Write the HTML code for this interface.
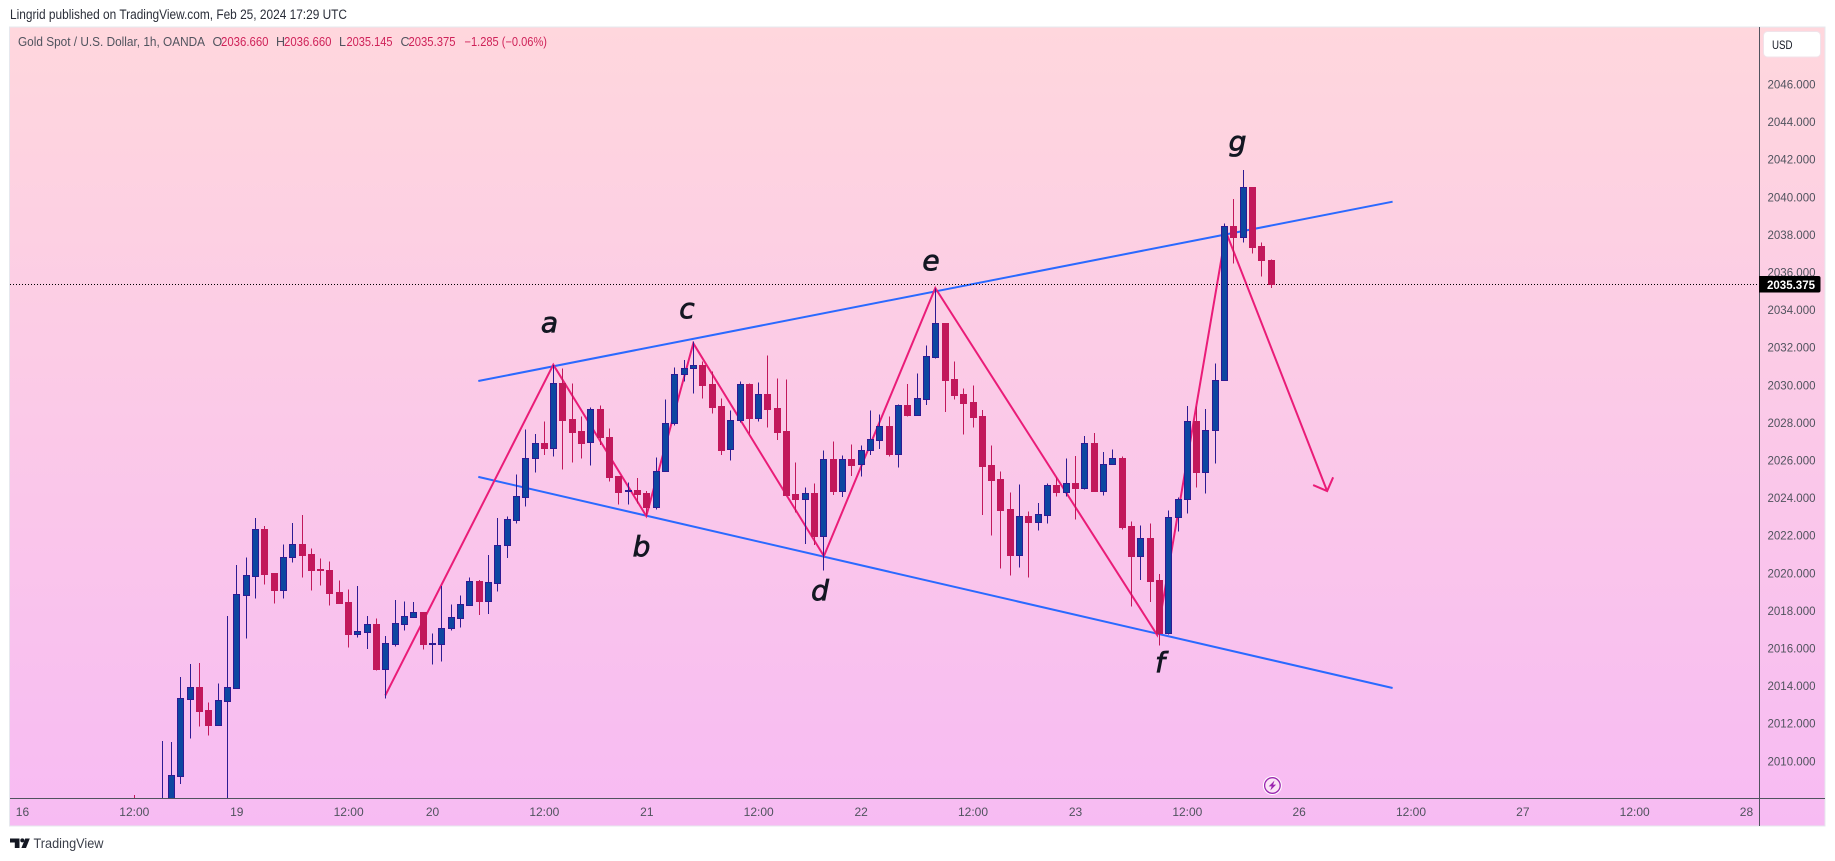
<!DOCTYPE html>
<html lang="en">
<head>
<meta charset="utf-8">
<title>Gold Spot / U.S. Dollar, 1h chart</title>
<style>
html,body{margin:0;padding:0;background:#fff;width:1835px;height:861px;overflow:hidden}
svg{display:block}
text{font-family:"Liberation Sans",sans-serif}
.axis-label{font-size:12px;fill:#50535e}
.legend{font-size:12.5px}
.wave{font-family:"DejaVu Sans",sans-serif;font-style:italic;font-size:28px;fill:#131722;stroke:#131722;stroke-width:.8px;text-anchor:middle}
</style>
</head>
<body>
<svg id="chart" xmlns="http://www.w3.org/2000/svg" width="1835" height="861" viewBox="0 0 1835 861">
  <defs>
    <linearGradient id="bg-gradient" x1="0" y1="0" x2="0" y2="1">
      <stop offset="0" stop-color="#ffd7dd"/>
      <stop offset="1" stop-color="#f7bbf3"/>
    </linearGradient>
    <clipPath id="plot-clip"><rect x="10" y="28" width="1749" height="770"/></clipPath>
  </defs>

  <text x="10" y="19" font-size="13.5" fill="#2a2e39" textLength="337" lengthAdjust="spacingAndGlyphs">Lingrid published on TradingView.com, Feb 25, 2024 17:29 UTC</text>

  <rect x="9.5" y="27" width="1815.5" height="799" fill="url(#bg-gradient)" stroke="#e6e8ee" stroke-width="1"/>

  <g id="drawings" clip-path="url(#plot-clip)"></g>
  <line x1="10" x2="1759" y1="284.5" y2="284.5" stroke="#000" stroke-width="1" stroke-dasharray="1 2"/>
  <g id="candles" clip-path="url(#plot-clip)"></g>

  <g>
    <text class="wave" x="549.5" y="332">a</text>
    <text class="wave" x="641.5" y="556">b</text>
    <text class="wave" x="687" y="318">c</text>
    <text class="wave" x="820" y="600">d</text>
    <text class="wave" x="931" y="270">e</text>
    <text class="wave" x="1160" y="672">f</text>
    <text class="wave" x="1237.5" y="151">g</text>
  </g>

  <line x1="1759.5" x2="1759.5" y1="27" y2="826" stroke="#50535e"/>
  <line x1="10" x2="1825" y1="798.5" y2="798.5" stroke="#50535e"/>
  <g id="price-axis"></g>
  <g id="time-axis"></g>

  <g>
    <rect x="1763.5" y="31.5" width="57" height="25.5" rx="4" fill="#fff" stroke="#f0e3ea"/>
    <text x="1772" y="49" font-size="12" fill="#131722" textLength="20.5" lengthAdjust="spacingAndGlyphs">USD</text>
  </g>

  <g>
    <path d="M1759 276H1818.5a2 2 0 0 1 2 2V290.5a2 2 0 0 1 -2 2H1759Z" fill="#000"/>
    <text x="1767" y="289" font-size="12" font-weight="bold" fill="#fff" textLength="48" lengthAdjust="spacingAndGlyphs">2035.375</text>
  </g>

  <g class="legend">
    <text x="18" y="46" fill="#50535e" class="legend" textLength="187" lengthAdjust="spacingAndGlyphs">Gold Spot / U.S. Dollar, 1h, OANDA</text>
    <text x="212.5" y="46" fill="#50535e" class="legend">O</text>
    <text x="221" y="46" fill="#cf2259" class="legend" textLength="47.5" lengthAdjust="spacingAndGlyphs">2036.660</text>
    <text x="276" y="46" fill="#50535e" class="legend">H</text>
    <text x="284" y="46" fill="#cf2259" class="legend" textLength="47.5" lengthAdjust="spacingAndGlyphs">2036.660</text>
    <text x="339" y="46" fill="#50535e" class="legend">L</text>
    <text x="346.5" y="46" fill="#cf2259" class="legend" textLength="46" lengthAdjust="spacingAndGlyphs">2035.145</text>
    <text x="400.5" y="46" fill="#50535e" class="legend">C</text>
    <text x="408.5" y="46" fill="#cf2259" class="legend" textLength="47" lengthAdjust="spacingAndGlyphs">2035.375</text>
    <text x="464.5" y="46" fill="#cf2259" class="legend" textLength="82.5" lengthAdjust="spacingAndGlyphs">−1.285 (−0.06%)</text>
  </g>

  <g>
    <circle cx="1272.4" cy="785.5" r="9.5" fill="#fff"/>
    <circle cx="1272.4" cy="785.5" r="7.8" fill="#fbe4f6" stroke="#9c27b0" stroke-width="1.3"/>
    <polygon points="1274.5,780.5 1268.7,786.4 1271.7,786.4 1270.3,790.5 1276.1,784.6 1273.1,784.6" fill="#9c27b0"/>
  </g>

  <g>
    <path d="M10 838.5H19.5V848H14.8V842.5H10Z" fill="#131722"/>
    <circle cx="22.3" cy="840.4" r="2" fill="#131722"/>
    <polygon points="25.2,838.5 29.8,838.5 26,848 21.4,848" fill="#131722"/>
    <text x="33.5" y="848" font-size="14" fill="#3a3e49" textLength="70" lengthAdjust="spacingAndGlyphs">TradingView</text>
  </g>
</svg>

<script>
// Candle values (oldest first).
const opens = [
2007.60,2006.90,2006.60,2005.90,2007.40,2009.21,2013.31,2013.93,2012.70,2011.92,
2013.20,2013.89,2018.84,2019.85,2022.31,2019.97,2019.10,2020.82,2021.51,2020.98,
2020.18,2020.15,2018.96,2018.45,2016.76,2016.87,2017.26,2014.90,2016.23,2017.29,
2017.67,2017.90,2016.23,2016.23,2017.05,2017.61,2018.31,2019.56,2018.52,2019.48,
2021.46,2022.83,2024.05,2026.09,2026.89,2026.66,2030.10,2028.16,2027.53,2026.94,
2028.70,2027.21,2025.15,2024.37,2024.39,2024.23,2023.52,2025.40,2027.95,2030.56,
2030.88,2031.04,2030.03,2028.86,2026.57,2028.11,2030.03,2028.25,2029.49,2028.75,
2027.52,2024.17,2023.94,2024.23,2021.98,2026.04,2024.37,2026.04,2025.77,2026.51,
2027.08,2027.79,2026.34,2028.91,2028.41,2029.26,2031.50,2033.27,2030.29,2029.49,
2029.07,2028.32,2025.72,2024.97,2023.38,2020.96,2023.00,2022.72,2023.09,2024.65,
2024.32,2024.76,2024.53,2026.89,2024.37,2025.77,2026.09,2022.47,2020.91,2021.83,
2019.60,2016.82,2022.95,2023.91,2028.06,2025.38,2027.58,2030.24,2038.43,2037.88,
2040.50,2037.36,2036.66
];
const highs = [
2008.18,2007.30,2007.20,2011.05,2011.00,2014.46,2015.15,2015.20,2013.11,2014.12,
2017.70,2020.41,2020.82,2022.91,2022.49,2019.97,2021.51,2022.65,2023.07,2021.30,
2020.77,2020.61,2019.60,2019.12,2019.30,2017.70,2017.58,2016.64,2018.54,2018.48,
2018.45,2017.90,2016.78,2019.30,2018.32,2018.80,2019.76,2019.62,2020.95,2022.92,
2023.00,2025.24,2027.63,2027.37,2028.06,2031.05,2030.88,2030.08,2028.32,2028.80,
2028.91,2027.68,2025.15,2024.81,2025.03,2024.35,2026.14,2029.23,2030.93,2031.32,
2032.29,2031.23,2030.70,2029.28,2028.64,2030.18,2030.08,2030.13,2031.57,2030.34,
2030.29,2025.88,2024.55,2024.76,2026.51,2026.99,2026.25,2026.83,2026.78,2028.64,
2028.43,2028.32,2028.96,2030.03,2030.61,2032.10,2035.13,2033.27,2031.25,2029.81,
2029.97,2028.66,2026.78,2025.40,2024.28,2024.71,2023.27,2023.71,2024.76,2025.08,
2026.09,2026.21,2027.28,2027.44,2026.43,2026.57,2026.19,2022.74,2022.52,2022.63,
2019.94,2023.32,2024.01,2028.87,2028.84,2028.70,2031.14,2038.59,2039.87,2041.43,
2040.50,2037.58,2036.66
];
const lows = [
2006.90,2006.20,2005.80,2005.00,2006.90,2008.77,2011.18,2011.82,2011.34,2011.92,
2007.00,2013.84,2016.50,2018.62,2019.37,2018.36,2018.62,2020.54,2019.74,2019.05,
2019.32,2018.25,2018.34,2016.02,2016.55,2015.96,2014.79,2013.31,2016.07,2016.92,
2017.67,2015.91,2015.11,2015.27,2016.92,2017.08,2018.29,2017.76,2017.81,2019.00,
2020.80,2022.61,2023.52,2025.33,2026.27,2026.18,2025.49,2025.86,2026.07,2025.70,
2026.80,2024.85,2023.62,2023.62,2023.68,2023.02,2023.36,2025.38,2027.83,2030.17,
2029.53,2029.26,2028.47,2026.27,2025.97,2027.99,2027.42,2028.04,2027.72,2027.06,
2024.14,2023.22,2021.53,2021.48,2020.11,2024.14,2024.03,2025.15,2025.11,2026.27,
2026.59,2026.18,2025.59,2028.31,2028.41,2028.93,2031.39,2028.55,2029.21,2027.35,
2027.72,2023.07,2021.98,2020.22,2019.85,2020.27,2019.76,2022.24,2022.61,2024.05,
2024.05,2022.83,2024.42,2024.37,2024.10,2025.77,2022.29,2018.20,2019.63,2018.46,
2016.12,2016.71,2022.19,2023.15,2024.53,2024.21,2025.81,2030.24,2036.44,2037.56,
2036.98,2035.75,2035.145
];
const closes = [
2007.30,2006.60,2006.90,2007.60,2009.24,2013.32,2013.93,2012.67,2011.92,2013.23,
2013.93,2018.85,2019.87,2022.31,2019.95,2019.10,2020.82,2021.51,2020.96,2020.17,
2020.15,2018.94,2018.41,2016.76,2016.89,2017.26,2014.88,2016.25,2017.31,2017.68,
2017.90,2016.23,2016.25,2017.05,2017.63,2018.32,2019.55,2018.52,2019.49,2021.46,
2022.84,2024.07,2026.09,2026.89,2026.66,2030.08,2028.15,2027.51,2026.92,2028.70,
2027.21,2025.11,2024.32,2024.39,2024.21,2023.52,2025.40,2027.95,2030.56,2030.88,
2031.04,2030.01,2028.84,2026.55,2028.11,2030.03,2028.25,2029.49,2028.73,2027.51,
2024.14,2023.93,2024.23,2021.98,2026.04,2024.37,2026.04,2025.75,2026.51,2027.10,
2027.79,2026.34,2028.91,2028.41,2029.28,2031.51,2033.27,2030.27,2029.48,2029.05,
2028.31,2025.70,2024.95,2023.36,2020.96,2023.00,2022.72,2023.11,2024.65,2024.32,
2024.76,2024.53,2026.89,2024.37,2025.77,2026.09,2022.45,2020.91,2021.83,2019.58,
2016.82,2022.95,2023.91,2028.06,2025.38,2027.58,2030.24,2038.43,2037.88,2040.50,
2037.35,2036.62,2035.375
];

// Axis labels.
const priceTicks = [2046,2044,2042,2040,2038,2036,2034,2032,2030,2028,2026,2024,2022,2020,2018,2016,2014,2012,2010];
const timeTickLabels = ["16","12:00","19","12:00","20","12:00","21","12:00","22","12:00","23","12:00","26","12:00","27","12:00","28"];
const timeTickBars = [-12,0,11,23,32,44,55,67,78,90,101,113,125,137,149,161,173];

// Chart drawings, anchored in bar / price units.
const channelUpperBars = [36.91,135.03];
const channelUpperPrices = [2030.20,2039.74];
const channelLowerBars = [36.91,135.03];
const channelLowerPrices = [2025.10,2013.87];
const zigzagBars = [26.93,44.96,54.94,59.98,74.0,85.95,109.77,117.15,128.0];
const zigzagPrices = [2013.48,2031.07,2023.02,2032.21,2020.89,2035.15,2016.69,2038.13,2024.35];

// Axis functions.
function xAt(bar){ return 134.3 + 9.319 * bar; }
function yAt(price){ return 84 + (2046 - price) * 18.8; }

const NS = 'http://www.w3.org/2000/svg';
const BLUE_FILL = '#0d47a1', BLUE_EDGE = '#2d1b93', RED_FILL = '#c2185b';

function make(tag, props){
  const el = document.createElementNS(NS, tag);
  for (const k in props) el.setAttribute(k, props[k]);
  return el;
}

// Drawings
const drawingsLayer = document.getElementById('drawings');
function polyPoints(bars, prices){
  return bars.map(function(b, i){ return xAt(b).toFixed(1) + ',' + yAt(prices[i]).toFixed(1); }).join(' ');
}
const upper = make('polyline', {points: polyPoints(channelUpperBars, channelUpperPrices), fill:'none', stroke:'#2a69ff', 'stroke-width':2});


drawingsLayer.appendChild(upper);
const lower = make('polyline', {points: polyPoints(channelLowerBars, channelLowerPrices), fill:'none', stroke:'#2a69ff', 'stroke-width':2});


drawingsLayer.appendChild(lower);
const zig = make('polyline', {points: polyPoints(zigzagBars, zigzagPrices), fill:'none', stroke:'#ea1c78', 'stroke-width':2, 'stroke-linejoin':'miter'});


drawingsLayer.appendChild(zig);
const tipX = xAt(zigzagBars[zigzagBars.length - 1]);
const tipY = yAt(zigzagPrices[zigzagPrices.length - 1]);
const head = make('polyline', {points: (tipX-14)+','+(tipY-6)+' '+tipX+','+tipY+' '+(tipX+6)+','+(tipY-13.7), fill:'none', stroke:'#ea1c78', 'stroke-width':2});


drawingsLayer.appendChild(head);

// Candles
const candleLayer = document.getElementById('candles');
opens.forEach(function(open, i){
  const close = closes[i];
  const up = close >= open;
  const cx = Math.floor(xAt(i)) + 0.5;
  const top = Math.round(yAt(Math.max(open, close)));
  const bottom = Math.round(yAt(Math.min(open, close)));
  const g = make('g', {});
  
  
  const wick = make('line', {x1:cx, x2:cx, y1:yAt(highs[i]), y2:yAt(lows[i]), stroke: up ? BLUE_EDGE : RED_FILL, 'stroke-width':1, 'shape-rendering':'crispEdges'});
  
  
  g.appendChild(wick);
  const body = make('rect', {x:cx-3, y:top+0.5, width:6, height:Math.max(bottom-top, 1), fill: up ? BLUE_FILL : RED_FILL, stroke: up ? BLUE_EDGE : RED_FILL, 'stroke-width':1, 'shape-rendering':'crispEdges'});
  
  
  g.appendChild(body);
  candleLayer.appendChild(g);
});

// Price axis
const priceAxis = document.getElementById('price-axis');
priceTicks.forEach(function(p){
  const t = make('text', {x:1767.5, y:yAt(p)+4.5, 'class':'axis-label', textLength:48, lengthAdjust:'spacingAndGlyphs'});
  
  
  t.textContent = p.toFixed(3);
  priceAxis.appendChild(t);
});

// Time axis
const timeAxis = document.getElementById('time-axis');
timeTickLabels.forEach(function(label, i){
  const t = make('text', {x:xAt(timeTickBars[i]), y:816, 'class':'axis-label', 'text-anchor':'middle'});
  
  
  t.textContent = label;
  timeAxis.appendChild(t);
});
</script>
</body>
</html>
